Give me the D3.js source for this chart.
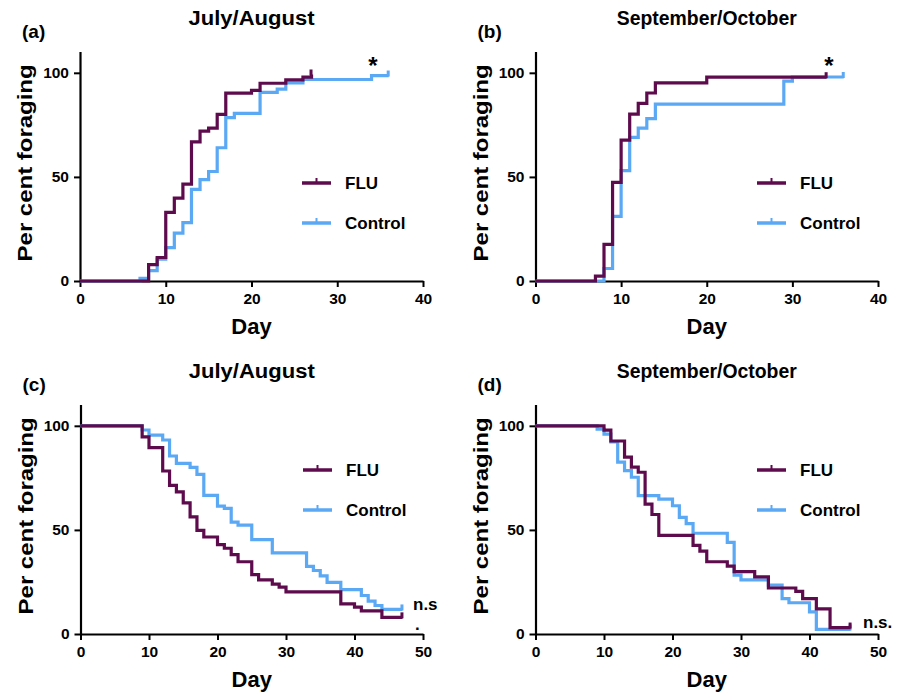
<!DOCTYPE html>
<html>
<head>
<meta charset="utf-8">
<script src="https://cdn.jsdelivr.net/npm/d3@7"></script>
<style>
  html, body { margin: 0; padding: 0; background: #fff; }
  svg { display: block; }
  text { font-family: "Liberation Sans", Arial, sans-serif; font-weight: bold; fill: #000; }
</style>
</head>
<body>
<svg id="chart" width="907" height="696"></svg>
<script>
// ---------- DATA (day, per cent foraging) ----------
const seriesNames = ["FLU", "Control"];
const panelLetters = ["(a)", "(b)", "(c)", "(d)"];
const panelTitles = ["July/August", "September/October", "July/August", "September/October"];
const xTicksTop = [0, 10, 20, 30, 40];
const xTicksBottom = [0, 10, 20, 30, 40, 50];
const yTicks = [0, 50, 100];
const annotations = ["*", "*", "n.s", "n.s."];

// (a) July/August – onset of foraging
const aFLU = [[0,0],[8,7.9],[9,11.3],[10,33],[11,39.8],[12,46.5],[13,66.8],[14,72],[15,73.4],[16,80],[17,90.2],[20,91.6],[21,95],[24,96.6],[26,97.9],[27,99.2]];
const aFLUEnd = 27;
const aCtrl = [[0,0],[7,1.3],[8,5],[9,10.5],[10,16],[11,23],[12,28],[13,44],[14,48.7],[15,52.6],[16,64],[17,78.5],[18,80.5],[21,90.6],[23,92.2],[24,95.2],[26,96.8],[34,98.7]];
const aCtrlEnd = 36;

// (b) September/October – onset of foraging
const bFLU = [[0,0],[7,2.3],[8,17.6],[9,47.4],[10,67.7],[11,80.2],[12,85.3],[13,90.3],[14,95.2],[20,97.9]];
const bFLUEnd = 34;
const bCtrl = [[0,0],[8,6],[9,31],[10,53],[11,69],[12,73.4],[13,78],[14,85],[29,96],[30,98]];
const bCtrlEnd = 36;

// (c) July/August – survival of foragers
const cFLU = [[0,100],[9,94.7],[10,89.5],[12,78.3],[13,71.4],[14,68.3],[15,63],[16,56.3],[17,49.8],[18,46.6],[20,42.9],[21,41.2],[22,38.1],[23,34.7],[25,28.5],[26,26],[28,24],[29,22.5],[30,20.2],[38,14.5],[40,12.9],[41,11.1],[44,8]];
const cFLUEnd = 47;
const cCtrl = [[0,100],[9,98],[10,95.5],[12,93.2],[13,85.5],[14,82],[16,80],[17,76.7],[18,66.6],[20,61.4],[21,60.3],[22,53.7],[23,52.3],[25,45.3],[28,39],[33,32.5],[34,30.5],[35,27.9],[36,24.8],[38,21.3],[41,18.5],[42,15.8],[43,13.7],[44,11.8]];
const cCtrlEnd = 47;

// (d) September/October – survival of foragers
const dFLU = [[0,100],[10,97.9],[11,92.7],[13,85],[14,80.2],[15,77.7],[16,62.4],[17,57.4],[18,47.4],[23,42.6],[24,39.8],[25,34.7],[28,32.6],[29,30],[32,27.4],[34,22.1],[38,20.5],[39,17],[41,12.1],[43,3.1]];
const dFLUEnd = 46;
const dCtrl = [[0,100],[9,98.4],[10,96],[11,92.3],[12,82.6],[13,78.5],[14,75.3],[15,66.5],[18,64.8],[20,61.6],[21,56],[22,53],[23,48.4],[28,44],[29,28.3],[30,26],[34,23.5],[36,17],[37,15],[40,10.6],[41,2.2]];
const dCtrlEnd = 46;

// ---------- LAYOUT ----------
const colors = { FLU: "#5e0b4e", Control: "#5ba8f4" };
const panels = [
  { left: 80,  right: 423, top: 52,  bottom: 281, xmax: 40, xticks: xTicksTop,    flu: aFLU, fluEnd: aFLUEnd, ctrl: aCtrl, ctrlEnd: aCtrlEnd,
    legX: 302, legY: [183, 223], ann: { x: 373, y: 74, size: 24, anchor: "middle" } },
  { left: 535.5, right: 878, top: 52, bottom: 281, xmax: 40, xticks: xTicksTop,   flu: bFLU, fluEnd: bFLUEnd, ctrl: bCtrl, ctrlEnd: bCtrlEnd,
    legX: 757, legY: [183, 223], ann: { x: 829, y: 74, size: 24, anchor: "middle" } },
  { left: 80.5, right: 423, top: 405, bottom: 634, xmax: 50, xticks: xTicksBottom, flu: cFLU, fluEnd: cFLUEnd, ctrl: cCtrl, ctrlEnd: cCtrlEnd,
    legX: 303, legY: [470, 510], ann: { x: 413, y: 610, size: 17, anchor: "start", dot: true } },
  { left: 535.5, right: 878, top: 405, bottom: 634, xmax: 50, xticks: xTicksBottom, flu: dFLU, fluEnd: dFLUEnd, ctrl: dCtrl, ctrlEnd: dCtrlEnd,
    legX: 757, legY: [470, 510], ann: { x: 863, y: 628, size: 17, anchor: "start" } }
];

const svg = d3.select("#chart");

panels.forEach((p, i) => {
  const x = d3.scaleLinear().domain([0, p.xmax]).range([p.left, p.right]);
  const y = d3.scaleLinear().domain([0, 110]).range([p.bottom, p.top]);
  const g = svg.append("g");

  // X axis
  const xa = g.append("g").attr("transform", `translate(0,${p.bottom})`)
    .call(d3.axisBottom(x).tickValues(p.xticks).tickSize(6).tickSizeOuter(0).tickPadding(6));
  // Y axis
  const ya = g.append("g").attr("transform", `translate(${p.left},0)`)
    .call(d3.axisLeft(y).tickValues(yTicks).tickSize(6).tickSizeOuter(0).tickPadding(5));
  [xa, ya].forEach(a => {
    a.select(".domain").attr("stroke", "#000").attr("stroke-width", 2.2);
    a.selectAll(".tick line").attr("stroke", "#000").attr("stroke-width", 2);
    a.selectAll(".tick text").style("font-size", "15.5px").style("font-weight", "bold")
      .style("font-family", '"Liberation Sans", Arial, sans-serif').attr("fill", "#000");
  });
  ya.select(".domain").attr("d", `M0.5,${p.top}V${p.bottom}`);

  // Axis titles
  g.append("text").attr("x", (p.left + p.right) / 2).attr("y", p.bottom + 53)
    .attr("text-anchor", "middle").style("font-size", "22px").text("Day");
  const ylx = p.left - 48, yly = (y(0) + y(100)) / 2 - 14;
  g.append("text").attr("transform", `translate(${ylx},${yly}) rotate(-90)`)
    .attr("text-anchor", "middle").style("font-size", "20.5px")
    .attr("textLength", 197).attr("lengthAdjust", "spacingAndGlyphs")
    .text("Per cent foraging");

  // Panel letter and title
  g.append("text").attr("x", p.left - 58).attr("y", p.top - 14).style("font-size", "19px").text(panelLetters[i]);
  const title = g.append("text").attr("x", (p.left + p.right) / 2).attr("y", p.top - 27)
    .attr("text-anchor", "middle").style("font-size", "20px").text(panelTitles[i]);
  if (panelTitles[i] === "July/August") title.attr("textLength", 126).attr("lengthAdjust", "spacingAndGlyphs");
  else title.attr("textLength", 180).attr("lengthAdjust", "spacingAndGlyphs");

  // Step curves
  const line = d3.line().x(d => x(d[0])).y(d => y(d[1])).curve(d3.curveStepAfter);
  const curves = [
    { name: "Control", data: p.ctrl, end: p.ctrlEnd },
    { name: "FLU", data: p.flu, end: p.fluEnd }
  ];
  curves.forEach(c => {
    const last = c.data[c.data.length - 1];
    const pts = c.data.concat([[c.end, last[1]]]);
    g.append("path").attr("d", line(pts)).attr("fill", "none")
      .attr("stroke", colors[c.name]).attr("stroke-width", 3.2)
      .attr("stroke-linejoin", "miter").attr("stroke-linecap", "butt");
    g.append("line").attr("x1", x(c.end) - 0.5).attr("x2", x(c.end) - 0.5)
      .attr("y1", y(last[1]) + 1).attr("y2", y(last[1]) - 5)
      .attr("stroke", colors[c.name]).attr("stroke-width", 3);
  });

  // Legend
  seriesNames.forEach((s, k) => {
    const ly = p.legY[k];
    g.append("line").attr("x1", p.legX).attr("x2", p.legX + 29).attr("y1", ly).attr("y2", ly)
      .attr("stroke", colors[s]).attr("stroke-width", 3.5);
    g.append("line").attr("x1", p.legX + 14.5).attr("x2", p.legX + 14.5).attr("y1", ly).attr("y2", ly - 5)
      .attr("stroke", colors[s]).attr("stroke-width", 2);
    g.append("text").attr("x", p.legX + 43).attr("y", ly + 6).style("font-size", "17px").text(s);
  });

  // Significance annotation
  const a = p.ann;
  g.append("text").attr("x", a.x).attr("y", a.y).attr("text-anchor", a.anchor)
    .style("font-size", a.size + "px").text(annotations[i]);
  if (a.dot) {
    g.append("text").attr("x", a.x + 2).attr("y", a.y + 20).style("font-size", a.size + "px").text(".");
  }
});
</script>
</body>
</html>
